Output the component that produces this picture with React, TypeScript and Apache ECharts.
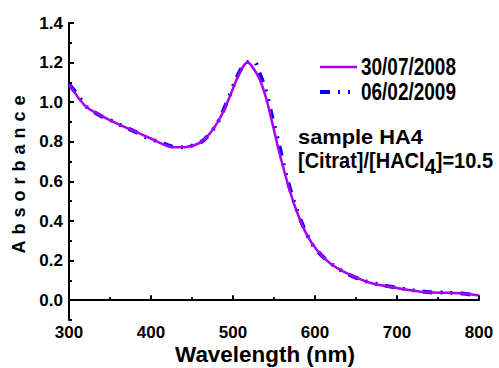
import React, { useEffect, useRef } from "react";
import * as echarts from "echarts";

// Absorbance spectra of sample HA4, two measurement dates
const wavelengthA = [300, 320, 338, 358, 378, 399, 419, 431, 443, 460, 472, 484, 496, 504, 512, 518, 525, 533, 541, 549, 555, 561, 569, 577, 589, 602, 618, 638, 667, 700, 732, 765, 781, 800];
const absorbanceA = [1.09, 0.98, 0.935, 0.893, 0.856, 0.818, 0.78, 0.772, 0.774, 0.796, 0.843, 0.918, 1.027, 1.111, 1.178, 1.2, 1.17, 1.111, 1.011, 0.876, 0.77, 0.675, 0.557, 0.457, 0.339, 0.255, 0.188, 0.138, 0.088, 0.062, 0.042, 0.037, 0.034, 0.024];

const wavelengthB = [300, 310, 322, 340, 350, 366, 381, 398, 410, 425, 440, 458, 466, 480, 490, 497, 503, 511, 520, 526, 532, 540, 548, 556, 565, 575, 585, 597, 612, 625, 640, 660, 680, 700, 720, 740, 760, 780, 800];
const absorbanceB = [1.09, 1.04, 0.975, 0.928, 0.91, 0.878, 0.85, 0.815, 0.8, 0.777, 0.773, 0.792, 0.815, 0.888, 0.975, 1.045, 1.11, 1.175, 1.205, 1.205, 1.15, 1.06, 0.92, 0.79, 0.63, 0.49, 0.38, 0.28, 0.21, 0.168, 0.132, 0.098, 0.078, 0.063, 0.05, 0.04, 0.038, 0.034, 0.022];

const seriesNames = ["30/07/2008", "06/02/2009"];
const yMajorTicks = [0, 0.2, 0.4, 0.6, 0.8, 1.0, 1.2, 1.4];
const yMinorTicks = [-0.1, 0.1, 0.3, 0.5, 0.7, 0.9, 1.1, 1.3];

const PURPLE = "#a800f0";
const BLUE = "#0000ff";
const BLUE_DASH = [10, 8, 2, 8, 2, 8];

const FONT = '"Liberation Sans", Arial, sans-serif';

// horizontal scale that makes a bold string span the given width
function fitScale(text: string, fontSize: number, width: number): number {
  const ctx = document.createElement("canvas").getContext("2d");
  if (!ctx) return 1;
  ctx.font = `bold ${fontSize}px ${FONT}`;
  const w = ctx.measureText(text).width;
  return w > 0 ? width / w : 1;
}

export default function App() {
  const ref = useRef<HTMLDivElement>(null);

  useEffect(() => {
    if (!ref.current) return;
    const chart = echarts.init(ref.current, null, { renderer: "svg" });

    const spreadLetters = () => {
      const texts = ref.current?.querySelectorAll("text") ?? [];
      texts.forEach((t) => {
        if (t.textContent === "Absorbance") {
          (t as SVGTextElement).style.letterSpacing = "6px";
        }
      });
    };

    const axisLine = { show: true, lineStyle: { color: "#000", width: 2 } };
    const boldText = (text: string, fontSize: number, extra: object = {}) => ({
      text,
      fontFamily: FONT,
      fontSize,
      fontWeight: "bold",
      fill: "#000",
      ...extra,
    });
    const legendText = (text: string, y: number) => ({
      type: "text",
      x: 361,
      y,
      scaleX: fitScale(text, 23, 95),
      style: boldText(text, 23, { verticalAlign: "middle" }),
    });

    const ratioParts = ["[Citrat]/[HACl", "4", "]=10.5"];
    const ratioScale = fitScale(ratioParts.join(""), 22, 195);

    chart.setOption({
      animation: false,
      backgroundColor: "#fff",
      grid: { left: 69, right: 20, top: 23, bottom: 48, outerBoundsMode: "none" },
      xAxis: {
        type: "value",
        min: 300,
        max: 800,
        interval: 100,
        axisLine,
        axisTick: { inside: true, length: 5, lineStyle: { color: "#000", width: 2 } },
        minorTick: { show: true, splitNumber: 2, length: 3, lineStyle: { color: "#000", width: 2 } },
        axisLabel: {
          margin: 4,
          fontFamily: FONT,
          fontSize: 17,
          fontWeight: "bold",
          color: "#000",
        },
        splitLine: { show: false },
      },
      yAxis: [
        {
          type: "value",
          min: -0.1,
          max: 1.4,
          name: "Absorbance",
          nameLocation: "middle",
          nameGap: 41,
          nameTextStyle: {
            fontFamily: FONT,
            fontSize: 18,
            fontWeight: "bold",
            color: "#000",
          },
          axisLine,
          axisTick: {
            inside: true,
            length: 5,
            customValues: yMajorTicks,
            lineStyle: { color: "#000", width: 2 },
          },
          axisLabel: {
            customValues: yMajorTicks,
            margin: 6,
            fontFamily: FONT,
            fontSize: 17,
            fontWeight: "bold",
            color: "#000",
            formatter: (v: number) => v.toFixed(1),
          },
          splitLine: { show: false },
        },
        {
          type: "value",
          min: -0.1,
          max: 1.4,
          position: "left",
          axisLine: { show: false },
          axisTick: {
            show: true,
            inside: true,
            length: 3,
            customValues: yMinorTicks,
            lineStyle: { color: "#000", width: 2 },
          },
          axisLabel: { show: false },
          splitLine: { show: false },
        },
      ],
      series: [
        {
          name: seriesNames[1],
          type: "line",
          data: wavelengthB.map((w, i) => [w, absorbanceB[i]]),
          smooth: 0.3,
          symbol: "none",
          lineStyle: { color: BLUE, width: 4, type: BLUE_DASH },
          z: 2,
        },
        {
          name: seriesNames[0],
          type: "line",
          data: wavelengthA.map((w, i) => [w, absorbanceA[i]]),
          smooth: 0.3,
          symbol: "none",
          lineStyle: { color: PURPLE, width: 2.5 },
          z: 3,
        },
      ],
      graphic: [
        // x-axis title
        {
          type: "text",
          x: 265,
          y: 355,
          scaleX: fitScale("Wavelength (nm)", 22, 180),
          style: boldText("Wavelength (nm)", 22, { align: "center", verticalAlign: "middle" }),
        },
        // legend
        {
          type: "line",
          shape: { x1: 320, y1: 67, x2: 357, y2: 67 },
          style: { stroke: PURPLE, lineWidth: 2.5 },
        },
        legendText(seriesNames[0], 67),
        {
          type: "line",
          shape: { x1: 320, y1: 92, x2: 357, y2: 92 },
          style: { stroke: BLUE, lineWidth: 4, lineDash: BLUE_DASH },
        },
        legendText(seriesNames[1], 92),
        // sample annotation
        {
          type: "text",
          x: 298,
          y: 137,
          scaleX: fitScale("sample HA4", 20, 125),
          style: boldText("sample HA4", 20, { verticalAlign: "middle" }),
        },
        {
          type: "text",
          x: 298,
          y: 149,
          scaleX: ratioScale,
          style: {
            text: `{a|${ratioParts[0]}}{s|${ratioParts[1]}}{a|${ratioParts[2]}}`,
            verticalAlign: "top",
            rich: {
              a: boldText("", 22, { verticalAlign: "top" }),
              s: boldText("", 22, { verticalAlign: "top", padding: [6, 0, 0, 0] }),
            },
          },
        },
      ],
    });

    spreadLetters();
    chart.on("finished", spreadLetters);

    return () => {
      chart.dispose();
    };
  }, []);

  return <div ref={ref} style={{ width: 499, height: 368, position: "absolute", left: 0, top: 0 }} />;
}
